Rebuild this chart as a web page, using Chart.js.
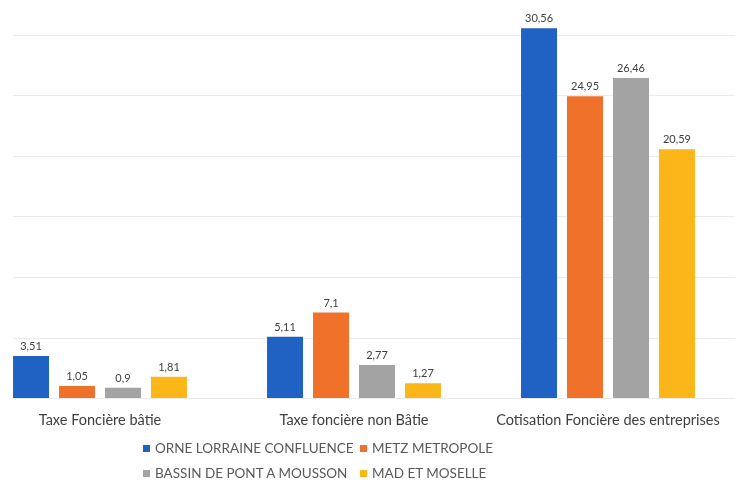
<!DOCTYPE html>
<html>
<head>
<meta charset="utf-8">
<script src="https://cdn.jsdelivr.net/npm/chart.js@4.4.1/dist/chart.umd.min.js"></script>
<style>
  body { margin: 0; background: #fff; width: 737px; height: 484px; overflow: hidden; position: relative; font-family: Lato, "Open Sans", sans-serif; }
  #clip { position: absolute; left: 13px; top: 0; width: 724px; height: 442px; overflow: hidden; }
  #box { position: absolute; left: -40px; top: 0; width: 762px; height: 442px; }
  .lg { position: absolute; font-size: 13.5px; color: #595959; white-space: nowrap; line-height: 14px; }
  .lg span { display: inline-block; width: 7px; height: 7px; margin-right: 5px; vertical-align: 1px; }
</style>
</head>
<body>
<div id="clip"><div id="box"><canvas id="chart"></canvas></div></div>
<div id="legend"></div>
<script>
var categories = ["Taxe Foncière bâtie", "Taxe foncière non Bâtie", "Cotisation Foncière des entreprises"];

var seriesNames = ["ORNE LORRAINE CONFLUENCE", "METZ METROPOLE", "BASSIN DE PONT A MOUSSON", "MAD ET MOSELLE"];
var orneLorraine = [3.51, 5.11, 30.56];
var metzMetropole = [1.05, 7.1, 24.95];
var bassinPont = [0.9, 2.77, 26.46];
var madMoselle = [1.81, 1.27, 20.59];

var colors = ["#1f62c4", "#f0712a", "#a3a3a3", "#fbb61a"];

var seriesValues = [orneLorraine, metzMetropole, bassinPont, madMoselle];

// value labels above bars, french decimal comma
var valueLabels = {
    id: "valueLabels",
    afterDatasetsDraw: function(chart) {
        var ctx = chart.ctx;
        ctx.save();
        ctx.font = "11px Lato, sans-serif";
        ctx.fillStyle = "#404040";
        ctx.textAlign = "center";
        ctx.textBaseline = "bottom";
        chart.data.datasets.forEach(function(ds, i) {
            var meta = chart.getDatasetMeta(i);
            meta.data.forEach(function(bar, j) {
                ctx.fillText(String(ds.data[j]).replace(".", ","), bar.x, bar.y - 4);
            });
        });
        ctx.restore();
    }
};

var datasets = [];
for (var i = 0; i < seriesNames.length; i++) {
    datasets.push({
        label: seriesNames[i],
        data: seriesValues[i],
        backgroundColor: colors[i],
        borderWidth: 0,
        categoryPercentage: 0.724,
        barPercentage: 0.783
    });
}

var chart1 = new Chart(document.getElementById("chart"), {
    type: "bar",
    data: { labels: categories, datasets: datasets },
    options: {
        responsive: true,
        maintainAspectRatio: false,
        animation: false,
        layout: { padding: 0 },
        plugins: {
            legend: { display: false },
            tooltip: { enabled: false }
        },
        scales: {
            x: {
                grid: { display: false, drawTicks: false },
                border: { display: false },
                ticks: {
                    color: "#404040",
                    padding: 13,
                    font: { size: 14.5, family: "Lato, sans-serif" }
                }
            },
            y: {
                min: 0,
                max: 32.9,
                grid: {
                    drawTicks: false,
                    color: function(c) { return c.tick && c.tick.value % 5 === 0 ? "#ebebeb" : "transparent"; }
                },
                border: { display: false },
                ticks: { display: false, stepSize: 5 }
            }
        }
    },
    plugins: [valueLabels]
});

// legend: two rows, two aligned columns
var legendPos = [[143, 441], [360, 441], [143, 466], [360, 466]];
var legend = document.getElementById("legend");
for (var k = 0; k < seriesNames.length; k++) {
    var d = document.createElement("div");
    d.className = "lg";
    d.style.left = legendPos[k][0] + "px";
    d.style.top = legendPos[k][1] + "px";
    d.innerHTML = '<span style="background:' + colors[k] + '"></span>' + seriesNames[k];
    legend.appendChild(d);
}
</script>
</body>
</html>
